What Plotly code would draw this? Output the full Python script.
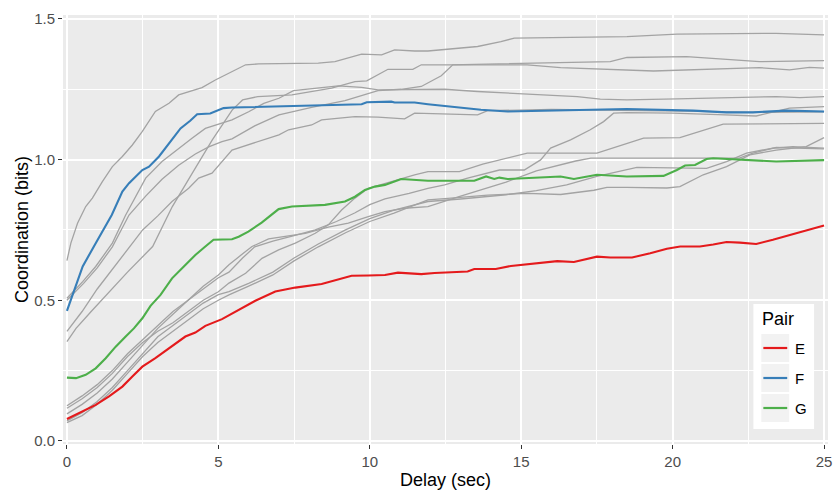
import plotly.graph_objects as go

# ---- pairs highlighted in colour ----
e_delay = [0, 0.5, 0.95, 1.39, 1.83, 2.16, 2.49, 2.92, 3.47, 3.91, 4.24, 4.57, 5.12, 5.67, 6.22, 6.88,
           7.54, 8.41, 8.85, 9.4, 9.95, 10.5, 10.93, 11.7, 12.14, 13.01, 13.23, 13.45, 14.16, 14.66,
           15.31, 16.19, 16.74, 17.5, 17.94, 18.66, 19.26, 19.81, 20.25, 20.9, 21.34, 21.78, 22.22,
           22.76, 23.31, 23.86, 24.4, 25]
e_bits = [0.078, 0.104, 0.128, 0.158, 0.193, 0.229, 0.264, 0.294, 0.335, 0.371, 0.385, 0.409, 0.433,
          0.466, 0.498, 0.531, 0.545, 0.558, 0.572, 0.587, 0.588, 0.59, 0.598, 0.593, 0.597, 0.6, 0.602,
          0.611, 0.611, 0.622, 0.629, 0.639, 0.636, 0.655, 0.652, 0.652, 0.667, 0.683, 0.691, 0.691,
          0.698, 0.707, 0.705, 0.7, 0.715, 0.732, 0.75, 0.766]

f_delay = [0, 0.52, 0.95, 1.28, 1.48, 1.83, 2.05, 2.49, 2.71, 3.04, 3.37, 3.75, 4.07, 4.3, 4.73, 5.17,
           5.45, 6.5, 8.0, 9.73, 9.9, 10.71, 10.82, 11.48, 11.92, 13.67, 14.55, 16.3, 18.49, 20.68,
           21.78, 22.65, 23.75, 25]
f_bits = [0.462, 0.62, 0.703, 0.768, 0.803, 0.886, 0.916, 0.963, 0.975, 1.011, 1.058, 1.111, 1.138,
          1.161, 1.164, 1.183, 1.185, 1.188, 1.19, 1.197, 1.204, 1.206, 1.203, 1.203, 1.197, 1.177,
          1.171, 1.174, 1.18, 1.174, 1.168, 1.168, 1.174, 1.171]

g_delay = [0, 0.3, 0.62, 0.95, 1.28, 1.61, 1.94, 2.21, 2.49, 2.76, 3.09, 3.47, 3.86, 4.24, 4.57, 4.84,
           5.45, 5.67, 5.99, 6.43, 6.99, 7.43, 8.52, 9.18, 9.51, 9.84, 10.17, 10.5, 11.04, 11.92,
           13.45, 13.84, 14.11, 14.28, 14.55, 16.3, 16.74, 17.5, 18.49, 19.7, 20.14, 20.41, 20.74,
           21.12, 21.34, 21.78, 22.44, 23.42, 25]
g_bits = [0.225, 0.223, 0.235, 0.258, 0.294, 0.335, 0.371, 0.4, 0.436, 0.48, 0.519, 0.578, 0.62, 0.661,
          0.691, 0.715, 0.717, 0.726, 0.744, 0.776, 0.824, 0.833, 0.839, 0.851, 0.868, 0.892, 0.904,
          0.91, 0.931, 0.925, 0.925, 0.94, 0.931, 0.936, 0.931, 0.94, 0.931, 0.946, 0.94, 0.942,
          0.963, 0.979, 0.981, 1.002, 1.005, 1.002, 0.999, 0.993, 0.998]

# ---- remaining pairs, drawn in grey ----
other_delay = [
    [0, 0.13, 0.35, 0.62, 0.84, 1.17, 1.5, 1.83, 2.16, 2.49, 2.92, 3.37, 3.69, 4.46, 4.9, 5.45, 5.9,
     6.33, 7.65, 8.3, 8.85, 9.18, 9.4, 9.73, 10.39, 10.82, 11.48, 11.92, 13.56, 14.33, 14.77, 18.49,
     20.14, 23.42, 25],
    [0, 0.3, 0.8, 1.4, 2.0, 2.83, 3.48, 4.14, 4.8, 5.46, 5.8, 6.3, 7.43, 8.74, 9.51, 9.9, 10.27, 10.6,
     11.42, 11.7, 12.69, 15.92, 17.94, 18.49, 20.46, 22.87, 25],
    [0, 0.52, 0.95, 1.5, 1.94, 2.6, 3.14, 3.69, 4.13, 4.57, 5.12, 5.45, 6.0, 6.5, 7.0, 7.48, 8.96, 9.73,
     10.27, 11.37, 12.47, 13.56, 16.85, 17.61, 18.49, 20.14, 21.78, 23.42, 24.2, 25],
    [0, 0.55, 1.0, 1.5, 2.05, 2.6, 3.14, 3.69, 4.24, 4.68, 5.12, 5.45, 6.2, 7.0, 8.08, 9.18, 10.27,
     11.04, 11.7, 12.36, 12.74, 15.2, 16.3, 18.49, 19.37, 22.87, 23.86, 24.52, 25],
    [0, 0.5, 1.0, 1.5, 2.0, 2.5, 3.0, 3.47, 4.02, 4.35, 4.79, 5.23, 5.45, 7.0, 7.32, 8.08, 8.41, 9.51,
     10.27, 11.15, 11.48, 13.56, 13.89, 16.0, 18.5, 20.5, 22.5, 25],
    [0, 0.5, 1.0, 1.5, 2.0, 2.5, 3.0, 3.5, 4.0, 4.5, 5.0, 5.35, 5.9, 6.44, 6.99, 7.54, 8.2, 8.63, 9.07,
     9.51, 9.95, 10.5, 11.04, 11.48, 11.92, 12.96, 13.73, 14.33, 15.2, 17.5, 18.05, 18.49, 19.04,
     20.24, 21.12, 21.67, 25],
    [0, 0.5, 1.0, 1.5, 2.0, 2.5, 3.0, 3.5, 4.0, 4.5, 5.0, 5.35, 5.8, 6.2, 6.8, 7.5, 8.2, 8.9, 9.5, 10.0,
     10.5, 11.3, 11.92, 12.47, 13.23, 14.28, 15.1, 15.64, 15.97, 16.63, 17.28, 17.72, 18.05, 18.49,
     20.0, 21.5, 22.76, 23.86, 25],
    [0, 0.5, 1.0, 1.5, 2.0, 2.5, 3.0, 3.5, 4.0, 4.5, 5.0, 5.35, 5.68, 6.11, 6.66, 7.21, 7.87, 8.63, 9.29,
     9.95, 10.5, 11.15, 11.92, 13.0, 14.5, 15.5, 16.8, 17.3, 22.2, 22.65, 23.42, 25],
    [0, 0.5, 1.0, 1.5, 2.0, 2.5, 3.0, 3.5, 4.0, 4.5, 5.0, 5.35, 6.0, 6.8, 7.5, 8.3, 9.2, 10.0, 10.8,
     11.92, 13.0, 14.5, 15.5, 16.5, 17.5, 18.49, 18.82, 21.12, 21.78, 22.44, 23.31, 23.97, 25],
    [0, 0.5, 1.0, 1.5, 2.0, 2.5, 3.0, 3.5, 4.0, 4.5, 5.0, 5.35, 6.0, 6.8, 7.5, 8.3, 9.2, 10.0, 10.8,
     11.92, 12.58, 13.89, 15.2, 16.3, 17.4, 17.83, 18.49, 19.81, 20.24, 21.01, 21.78, 22.55, 23.42,
     24.41, 25],
]
other_bits = [
    [0.641, 0.703, 0.774, 0.833, 0.863, 0.922, 0.975, 1.011, 1.052, 1.1, 1.171, 1.2, 1.23, 1.256, 1.283,
     1.313, 1.337, 1.34, 1.343, 1.343, 1.348, 1.358, 1.366, 1.375, 1.372, 1.39, 1.386, 1.386, 1.402,
     1.419, 1.432, 1.437, 1.446, 1.449, 1.443],
    [0.353, 0.4, 0.46, 0.53, 0.6, 0.691, 0.833, 0.952, 1.07, 1.177, 1.212, 1.224, 1.23, 1.254, 1.277,
     1.28, 1.301, 1.321, 1.321, 1.337, 1.337, 1.343, 1.348, 1.363, 1.366, 1.348, 1.352],
    [0.507, 0.566, 0.62, 0.703, 0.803, 0.934, 0.993, 1.04, 1.076, 1.111, 1.129, 1.141, 1.17, 1.2, 1.218,
     1.245, 1.262, 1.257, 1.248, 1.248, 1.25, 1.242, 1.224, 1.215, 1.212, 1.216, 1.22, 1.224, 1.22,
     1.224],
    [0.5, 0.56, 0.615, 0.69, 0.803, 0.87, 0.93, 0.98, 1.02, 1.045, 1.064, 1.074, 1.12, 1.159, 1.186,
     1.21, 1.245, 1.25, 1.26, 1.298, 1.337, 1.337, 1.327, 1.319, 1.315, 1.327, 1.319, 1.328, 1.325],
    [0.389, 0.46, 0.54, 0.61, 0.68, 0.75, 0.8, 0.851, 0.898, 0.934, 0.952, 1.005, 1.034, 1.088, 1.106,
     1.123, 1.141, 1.153, 1.151, 1.145, 1.165, 1.159, 1.174, 1.178, 1.176, 1.172, 1.168, 1.17],
    [0.116, 0.15, 0.19, 0.24, 0.3, 0.35, 0.39, 0.42, 0.46, 0.5, 0.53, 0.561, 0.596, 0.649, 0.679, 0.703,
     0.738, 0.768, 0.821, 0.863, 0.898, 0.916, 0.934, 0.946, 0.957, 0.957, 0.984, 0.999, 1.023, 1.023,
     1.041, 1.058, 1.076, 1.078, 1.106, 1.126, 1.129],
    [0.125, 0.16, 0.2, 0.25, 0.31, 0.36, 0.41, 0.46, 0.5, 0.54, 0.58, 0.6, 0.65, 0.69, 0.71, 0.73, 0.75,
     0.78, 0.81, 0.84, 0.86, 0.88, 0.898, 0.91, 0.934, 0.963, 0.963, 0.999, 1.041, 1.07, 1.106, 1.135,
     1.165, 1.167, 1.165, 1.16, 1.155, 1.183, 1.188],
    [0.096, 0.13, 0.17, 0.22, 0.28, 0.34, 0.4, 0.45, 0.5, 0.55, 0.59, 0.626, 0.655, 0.691, 0.718, 0.726,
     0.738, 0.76, 0.774, 0.797, 0.815, 0.827, 0.833, 0.87, 0.92, 0.96, 0.995, 1.005, 1.005, 1.023,
     1.043, 1.038],
    [0.071, 0.1, 0.14, 0.19, 0.25, 0.31, 0.37, 0.41, 0.45, 0.49, 0.52, 0.531, 0.56, 0.6, 0.65, 0.7, 0.75,
     0.79, 0.82, 0.851, 0.86, 0.875, 0.89, 0.91, 0.94, 0.963, 0.972, 0.969, 0.993, 1.023, 1.041,
     1.046, 1.041],
    [0.065, 0.09, 0.13, 0.18, 0.24, 0.3, 0.35, 0.39, 0.43, 0.47, 0.5, 0.519, 0.55, 0.59, 0.64, 0.69,
     0.74, 0.78, 0.81, 0.857, 0.862, 0.874, 0.88, 0.876, 0.891, 0.901, 0.901, 0.899, 0.904, 0.946,
     0.975, 1.017, 1.034, 1.046, 1.078],
]

pair_names = ["E", "F", "G"]
pair_colors = ["#E41A1C", "#377EB8", "#4DAF4A"]
x_ticks = [0, 5, 10, 15, 20, 25]
y_ticks = [0.0, 0.5, 1.0, 1.5]

FONT = "Liberation Sans, Arial, Helvetica, sans-serif"
W, H = 836, 492
L, R, T, B = 63, 4, 15, 48

fig = go.Figure()

for xs, ys in zip(other_delay, other_bits):
    fig.add_trace(go.Scatter(x=xs, y=ys, mode="lines", showlegend=False,
                             line=dict(color="#A3A3A3", width=1.3), hoverinfo="skip"))

for name, color, xs, ys in zip(pair_names, pair_colors,
                               [e_delay, f_delay, g_delay], [e_bits, f_bits, g_bits]):
    fig.add_trace(go.Scatter(x=xs, y=ys, mode="lines", name=name, showlegend=False,
                             line=dict(color=color, width=2.1)))

# legend panel (ggplot-style keys), placed in paper coordinates from pixel positions
pw, ph = W - L - R, H - T - B


def px(xp):
    return (xp - L) / pw


def py(yp):
    return (H - B - yp) / ph


shapes = [dict(type="rect", xref="paper", yref="paper", x0=px(757), x1=px(818), y0=py(429), y1=py(304),
               fillcolor="white", line=dict(width=0), layer="above")]
annotations = [dict(text="Pair", xref="paper", yref="paper", x=px(764), y=py(319), xanchor="left",
                    yanchor="middle", showarrow=False, font=dict(family=FONT, size=18, color="black"))]
for i, (name, color) in enumerate(zip(pair_names, pair_colors)):
    top = 334 + i * 30
    shapes.append(dict(type="rect", xref="paper", yref="paper", x0=px(765), x1=px(793),
                       y0=py(top + 28), y1=py(top), fillcolor="#F2F2F2", line=dict(width=0), layer="above"))
    shapes.append(dict(type="line", xref="paper", yref="paper", x0=px(767), x1=px(791),
                       y0=py(top + 14), y1=py(top + 14), line=dict(color=color, width=2.2), layer="above"))
    annotations.append(dict(text=name, xref="paper", yref="paper", x=px(797), y=py(top + 14),
                            xanchor="left", yanchor="middle", showarrow=False,
                            font=dict(family=FONT, size=15, color="black")))

fig.update_layout(
    width=W, height=H,
    margin=dict(l=L, r=R, t=T, b=B),
    paper_bgcolor="white", plot_bgcolor="#EBEBEB",
    font=dict(family=FONT, color="black"),
    shapes=shapes, annotations=annotations,
    showlegend=False,
)
fig.update_xaxes(
    range=[-0.13, 25.13], tickvals=x_ticks, ticktext=[str(v) for v in x_ticks],
    ticklabeloverflow="allow",
    showgrid=True, gridcolor="white", gridwidth=1.6,
    minor=dict(tickvals=[2.5, 7.5, 12.5, 17.5, 22.5], showgrid=True, gridcolor="white", gridwidth=0.8,
               ticks=""),
    ticks="outside", ticklen=4, tickwidth=1.1, tickcolor="#333333",
    tickfont=dict(family=FONT, size=15, color="#4D4D4D"),
    zeroline=False, showline=False,
    title=dict(text="Delay (sec)", font=dict(family=FONT, size=18, color="black"), standoff=4),
)
fig.update_yaxes(
    range=[-0.011, 1.514], tickvals=y_ticks, ticktext=["0.0", "0.5", "1.0", "1.5"],
    ticklabeloverflow="allow",
    showgrid=True, gridcolor="white", gridwidth=1.6,
    minor=dict(tickvals=[0.25, 0.75, 1.25], showgrid=True, gridcolor="white", gridwidth=0.8, ticks=""),
    ticks="outside", ticklen=4, tickwidth=1.1, tickcolor="#333333",
    tickfont=dict(family=FONT, size=15, color="#4D4D4D"),
    zeroline=False, showline=False,
    title=dict(text="Coordination (bits)", font=dict(family=FONT, size=18, color="black"), standoff=0),
)

fig.write_html("out.html")
